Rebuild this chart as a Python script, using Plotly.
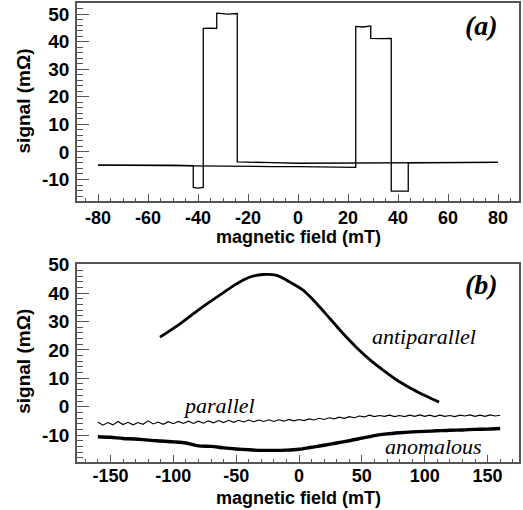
import plotly.graph_objects as go

# ---------------- panel (a) data: hysteresis sweeps ----------------
a_up_x = [-80, -70, -60, -50, -40, -30, -20, -10, 0, 10, 20, 23.1, 23.1, 26, 29.1, 29.1, 33, 37.3, 37.3, 40, 44.1, 44.1, 50, 60, 70, 80]
a_up_y = [-4.8, -4.9, -4.9, -5.0, -5.0, -5.1, -5.2, -5.3, -5.3, -5.5, -5.6, -5.6, 45.5, 45.3, 45.7, 41.2, 41.1, 41.2, -14.2, -14.3, -14.2, -3.9, -3.9, -3.8, -3.9, -3.8]
a_dn_x = [80, 60, 44.1, 30, 20, 10, 0, -10, -20, -24.3, -24.3, -28, -32.5, -32.5, -35, -37.9, -37.9, -40, -41.9, -41.9, -50, -60, -70, -80]
a_dn_y = [-3.8, -3.9, -3.9, -4.0, -4.0, -4.1, -4.1, -3.9, -3.8, -3.6, 50.2, 50.0, 50.3, 44.8, 44.9, 44.8, -12.9, -13.1, -12.9, -5.0, -4.8, -4.9, -4.8, -4.8]

a_xticks = [-80, -60, -40, -20, 0, 20, 40, 60, 80]
a_yticks = [-10, 0, 10, 20, 30, 40, 50]

# ---------------- panel (b) data ----------------
anti_x = [-110.6, -94.7, -78.8, -62.8, -49.6, -39.0, -28.4, -17.7, -7.2, 3.4, 14.1, 24.7, 35.2, 45.9, 56.5, 67.1, 77.7, 88.4, 99.0, 109.5, 111.4]
anti_y = [24.5, 29.2, 34.5, 39.4, 43.3, 45.7, 46.6, 46.3, 43.9, 41.0, 36.3, 31.0, 25.7, 20.8, 16.5, 12.8, 9.4, 6.6, 4.2, 2.0, 1.6]

par_x = list(range(-160, 161, 4))
par_y = [-5.4, -6.5, -5.6, -6.4, -5.2, -6.3, -5.5, -6.4, -5.6, -6.2,
         -5.0, -6.1, -5.4, -6.2, -5.3, -6.0, -5.2, -5.9, -5.1, -5.9,
         -5.1, -5.8, -5.0, -5.7, -4.9, -5.6, -4.8, -5.5, -4.8, -5.4,
         -4.7, -5.3, -4.7, -5.2, -4.6, -5.2, -4.6, -5.1, -4.5, -5.0,
         -4.5, -4.9, -4.3, -4.7, -4.1, -4.5, -3.9, -4.3, -3.7, -4.1,
         -3.5, -3.9, -3.3, -3.6, -3.0, -3.5, -3.1, -3.4, -3.0, -3.5,
         -3.1, -3.5, -3.0, -3.4, -2.9, -3.4, -3.0, -3.5, -3.0, -3.4,
         -3.1, -3.5, -3.0, -3.3, -2.9, -3.4, -3.0, -3.4, -2.9, -3.3, -3.0]

anom_x = list(range(-160, 161, 10))
anom_y = [-10.6, -10.8, -11.2, -11.4, -11.8, -12.1, -12.4, -12.8, -13.8, -14.0,
          -14.5, -14.9, -15.2, -15.4, -15.4, -15.3, -15.0, -14.3, -13.6, -12.8,
          -12.0, -11.1, -10.2, -9.6, -9.2, -8.9, -8.7, -8.5, -8.3, -8.2, -8.0, -7.9, -7.7]

b_xticks = [-150, -100, -50, 0, 50, 100, 150]
b_yticks = [-10, 0, 10, 20, 30, 40, 50]

fig = go.Figure()
fig.add_trace(go.Scatter(x=a_up_x, y=a_up_y, mode="lines", line=dict(color="black", width=1.3), xaxis="x", yaxis="y"))
fig.add_trace(go.Scatter(x=a_dn_x, y=a_dn_y, mode="lines", line=dict(color="black", width=1.3), xaxis="x", yaxis="y"))
fig.add_trace(go.Scatter(x=anti_x, y=anti_y, mode="lines", line=dict(color="black", width=2.8, shape="spline", smoothing=1.0), xaxis="x2", yaxis="y2"))
fig.add_trace(go.Scatter(x=par_x, y=par_y, mode="lines", line=dict(color="black", width=1.1), xaxis="x2", yaxis="y2"))
fig.add_trace(go.Scatter(x=anom_x, y=anom_y, mode="lines", line=dict(color="black", width=3.4, shape="spline", smoothing=0.8), xaxis="x2", yaxis="y2"))

frame = "#555555"
sans = "Liberation Sans, Arial"
ytickfont = dict(family=sans, size=19, color="black")
xtickfont = dict(family=sans, size=18, color="black")

def lab(v):
    return "<b>%d</b>" % v

def xax(rng, ticks, mdtick, anchor, standoff):
    return dict(range=rng, tickmode="array", tickvals=ticks, ticktext=[lab(v) for v in ticks],
                ticks="inside", ticklen=7, tickwidth=1.2, tickcolor=frame,
                minor=dict(ticks="inside", ticklen=3.5, dtick=mdtick, tick0=0, tickcolor=frame, tickwidth=1.2),
                showline=True, mirror=True, linecolor=frame, linewidth=1.5, showgrid=False, zeroline=False,
                tickfont=xtickfont, anchor=anchor, ticklabelstandoff=standoff)

def yax(rng, domain, ticks, anchor):
    return dict(range=rng, domain=domain, tickmode="array", tickvals=ticks, ticktext=[lab(v) for v in ticks],
                ticks="inside", ticklen=12, tickwidth=1.2, tickcolor=frame,
                minor=dict(ticks="inside", ticklen=6, dtick=2, tick0=0, tickcolor=frame, tickwidth=1.2),
                showline=True, mirror=True, linecolor=frame, linewidth=1.5, showgrid=False, zeroline=False,
                tickfont=ytickfont, anchor=anchor, ticklabelstandoff=2)

fig.update_layout(
    width=523, height=510,
    margin=dict(l=77, r=4, t=3, b=48, autoexpand=False),
    paper_bgcolor="white", plot_bgcolor="white",
    showlegend=False,
    xaxis=xax([-88.4, 88.4], a_xticks, 5, "y", 0),
    yaxis=yax([-17.8, 54], [0.5686, 1.0], a_yticks, "x"),
    xaxis2=xax([-176.6, 175], b_xticks, 10, "y2", -3),
    yaxis2=yax([-19.5, 50.3], [0.0, 0.4314], b_yticks, "x2"),
)

titlefont = dict(family=sans, size=18, color="black")
ytitlefont = dict(family=sans, size=19, color="black")
# axis titles
fig.add_annotation(x=0.5, y=0.4902, xref="paper", yref="paper", text="<b>magnetic field (mT)</b>", showarrow=False,
                   font=titlefont, xanchor="center", yanchor="middle")
fig.add_annotation(x=0.5, y=-0.0795, xref="paper", yref="paper", text="<b>magnetic field (mT)</b>", showarrow=False,
                   font=titlefont, xanchor="center", yanchor="middle")
fig.add_annotation(x=-0.12, y=0.7876, xref="paper", yref="paper", text="<b>signal (mΩ)</b>", showarrow=False,
                   font=ytitlefont, xanchor="center", yanchor="middle", textangle=-90)
fig.add_annotation(x=-0.12, y=0.2205, xref="paper", yref="paper", text="<b>signal (mΩ)</b>", showarrow=False,
                   font=ytitlefont, xanchor="center", yanchor="middle", textangle=-90)

serif = "Liberation Serif, Times New Roman"
serif_bi = dict(family=serif, size=28, color="black")
serif_i = dict(family=serif, size=22, color="black")
fig.add_annotation(x=73.2, y=46, xref="x", yref="y", text="<b><i>(a)</i></b>", showarrow=False, font=serif_bi)
fig.add_annotation(x=144.8, y=42.9, xref="x2", yref="y2", text="<b><i>(b)</i></b>", showarrow=False, font=serif_bi)
fig.add_annotation(x=99.8, y=24.6, xref="x2", yref="y2", text="<i>antiparallel</i>", showarrow=False, font=serif_i)
fig.add_annotation(x=-63.6, y=0.3, xref="x2", yref="y2", text="<i>parallel</i>", showarrow=False, font=serif_i)
fig.add_annotation(x=106.6, y=-14.1, xref="x2", yref="y2", text="<i>anomalous</i>", showarrow=False, font=serif_i)

fig.write_html("out.html")
